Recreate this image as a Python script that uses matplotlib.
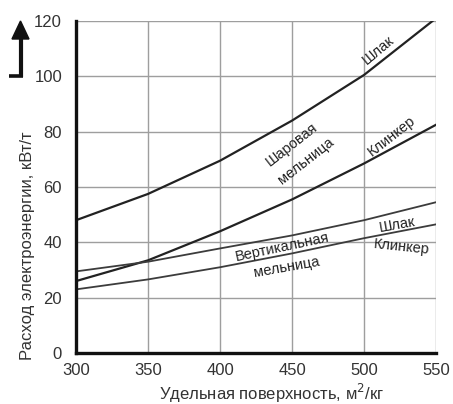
import numpy as np
import matplotlib
matplotlib.use('Agg')
import matplotlib.pyplot as plt
from matplotlib.patches import Polygon

plt.rcParams['font.family'] = ['Liberation Sans', 'DejaVu Sans']

# Specific surface, m2/kg
surface = [300, 350, 400, 450, 500, 550]

# Energy consumption, kWh/t
ball_slag = [48, 57.5, 69.5, 84, 100.5, 121]
ball_clinker = [26, 33.5, 44, 55.5, 68.5, 82.5]
vert_slag = [29.5, 33, 37.8, 42.5, 48, 54.5]
vert_clinker = [23, 26.6, 31, 36, 41.5, 46.5]

x_ticks = [300, 350, 400, 450, 500, 550]
y_ticks = [0, 20, 40, 60, 80, 100, 120]

fig = plt.figure(figsize=(4.53, 4.04), dpi=100)
ax = fig.add_axes([0.1678, 0.1262, 0.7947, 0.8218])

ax.set_xlim(300, 550)
ax.set_ylim(0, 120)
ax.set_xticks(x_ticks)
ax.set_yticks(y_ticks)
ax.grid(True, color='#9e9e9e', linewidth=1.0)
ax.set_axisbelow(True)
for side in ['top', 'right']:
    ax.spines[side].set_visible(False)
for side in ['left', 'bottom']:
    ax.spines[side].set_linewidth(2.4)
    ax.spines[side].set_color('#111111')
ax.tick_params(length=0, labelsize=12, colors='#333333')
ax.tick_params(axis='y', pad=10)
ax.tick_params(axis='x', pad=7)

# ball mill curves
ax.plot(surface, ball_slag, color='#222222', lw=1.6, solid_joinstyle='round')
ax.plot(surface, ball_clinker, color='#222222', lw=1.6, solid_joinstyle='round')
# vertical mill curves
ax.plot(surface, vert_slag, color='#3c3c3c', lw=1.3)
ax.plot(surface, vert_clinker, color='#3c3c3c', lw=1.3)

lab = dict(fontsize=10.5, color='#222222', ha='center', va='center',
           rotation_mode='anchor')
ax.text(510, 109.5, 'Шлак', rotation=40, **lab)
ax.text(450, 75.3, 'Шаровая', rotation=38, **lab)
ax.text(459.7, 69.5, 'мельница', rotation=38, **lab)
ax.text(519.4, 78.2, 'Клинкер', rotation=38, **lab)
ax.text(443, 38.4, 'Вертикальная', rotation=12, **lab)
ax.text(446.5, 31.1, 'мельница', rotation=10, **lab)
ax.text(523, 46.3, 'Шлак', rotation=10, **lab)
ax.text(526, 38.4, 'Клинкер', rotation=-6, **lab)

fig.text(28 / 453, 1 - 246 / 404, 'Расход электроэнергии, кВт/т',
         rotation=90, ha='center', va='center', fontsize=12, color='#333333')
fig.text(272 / 453, 1 - 393 / 404, 'Удельная поверхность, м$^2$/кг',
         ha='center', va='center', fontsize=12, color='#333333')

# direction arrow in the upper left corner
W, H = 453.0, 404.0
def fp(px, py):
    return (px / W, 1 - py / H)

head = Polygon([fp(20.5, 21), fp(12, 39), fp(29, 39)], closed=True,
               transform=fig.transFigure, color='#111111')
fig.patches.append(head)
fig.lines.append(plt.Line2D([20.5 / W, 20.5 / W], [1 - 37 / H, 1 - 77 / H],
                            transform=fig.transFigure, color='#111111', lw=3.0,
                            solid_capstyle='butt'))
fig.lines.append(plt.Line2D([9 / W, 22.5 / W], [1 - 75.5 / H, 1 - 75.5 / H],
                            transform=fig.transFigure, color='#111111', lw=2.6,
                            solid_capstyle='butt'))

fig.savefig('out.png', dpi=100)
